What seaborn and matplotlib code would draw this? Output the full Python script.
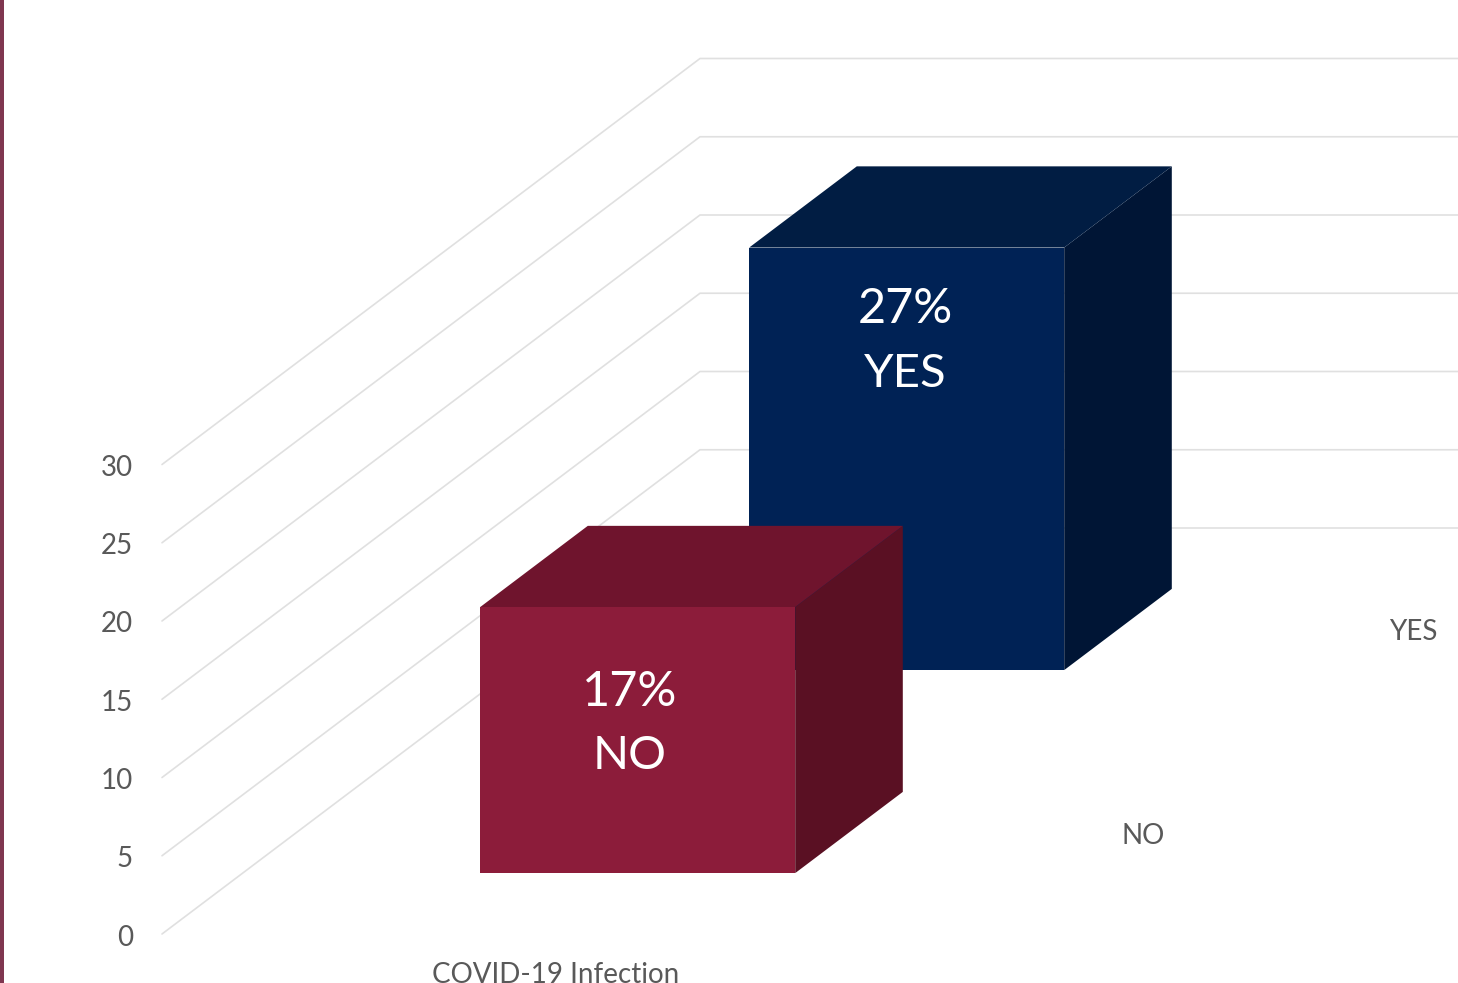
import matplotlib
matplotlib.use("Agg")
import matplotlib.pyplot as plt
from matplotlib.patches import Polygon, Rectangle
import pandas as pd
import seaborn as sns

# Chart values
categories = ["NO", "YES"]
values = [17, 27]
value_labels = ["17%", "27%"]
series_name = "COVID-19 Infection"
axis_ticks = [0, 5, 10, 15, 20, 25, 30]

# Oblique projection of the 3D column chart, in pixels
WIDTH, HEIGHT = 1458, 983
ORIGIN_X, FLOOR_Y = 162, 934
DEPTH_DX, DEPTH_DY = 538, 406
UNIT_PX = 15.65
WALL_WIDTH = 758

BAR_X = 237.5
BAR_W = 315
BAR_DEPTH = 0.2
bar_depth_start = [0.15, 0.65]

front_colors = ["#8C1C3A", "#002255"]
top_colors = ["#6F142D", "#011D43"]
side_colors = ["#5A1023", "#001535"]
label_centres = [(630, 692, 756), (905, 309, 374)]
depth_label_pos = [(1143, 836), (1413, 632)]

GRID = "#E0E0E0"
TEXT = "#595959"
FONT = ["Lato", "DejaVu Sans"]


def project(x, value, depth):
    """Map (offset along the front, value, depth 0..1) to canvas pixels."""
    return (ORIGIN_X + x + DEPTH_DX * depth,
            FLOOR_Y - DEPTH_DY * depth - value * UNIT_PX)


sns.set_theme(style="white")
plt.rcParams["font.family"] = FONT

fig = plt.figure(figsize=(WIDTH / 100, HEIGHT / 100), dpi=100)
ax = fig.add_axes([0, 0, 1, 1])

# Gridlines: along the side wall, then across the back wall
rows = []
for tick in axis_ticks:
    for order, (x, depth) in enumerate([(0, 0), (0, 1), (WALL_WIDTH, 1)]):
        sx, sy = project(x, tick, depth)
        rows.append({"tick": tick, "order": order, "sx": sx, "sy": sy})
grid = pd.DataFrame(rows)
sns.lineplot(data=grid, x="sx", y="sy", units="tick", estimator=None,
             sort=False, color=GRID, linewidth=1.2, legend=False, ax=ax, zorder=1)

ax.set_xlim(0, WIDTH)
ax.set_ylim(HEIGHT, 0)
ax.axis("off")

# Left-hand accent rule
ax.add_patch(Rectangle((0, 0), 4, HEIGHT, color="#7F3650", lw=0, zorder=1))

# Value axis labels
for tick in axis_ticks:
    _, sy = project(0, tick, 0)
    ax.text(133, sy + 1, str(tick), ha="right", va="center_baseline",
            fontsize=20, color=TEXT)

# Columns, rear one first
for i in sorted(range(len(values)), key=lambda k: -bar_depth_start[k]):
    d0, d1 = bar_depth_start[i], bar_depth_start[i] + BAR_DEPTH
    x0, x1 = BAR_X, BAR_X + BAR_W
    v = values[i]
    z = 3 + (1 - d0)
    faces = [
        ([project(x1, 0, d0), project(x1, 0, d1), project(x1, v, d1), project(x1, v, d0)], side_colors[i]),
        ([project(x0, v, d0), project(x1, v, d0), project(x1, v, d1), project(x0, v, d1)], top_colors[i]),
        ([project(x0, 0, d0), project(x1, 0, d0), project(x1, v, d0), project(x0, v, d0)], front_colors[i]),
    ]
    for pts, colour in faces:
        ax.add_patch(Polygon(pts, closed=True, facecolor=colour, edgecolor="none", zorder=z))
    cx, y_value, y_cat = label_centres[i]
    ax.text(cx, y_value, value_labels[i], ha="center", va="center",
            fontsize=35, color="white", zorder=z + 0.1)
    ax.text(cx, y_cat, categories[i], ha="center", va="center",
            fontsize=34, color="white", zorder=z + 0.1)

# Depth axis and category axis labels
for name, (tx, ty) in zip(categories, depth_label_pos):
    ax.text(tx, ty, name, ha="center", va="center", fontsize=20, color=TEXT)
ax.text(556, 975, series_name, ha="center", va="center", fontsize=20, color=TEXT)

fig.savefig("out.png", dpi=100, facecolor="white")
